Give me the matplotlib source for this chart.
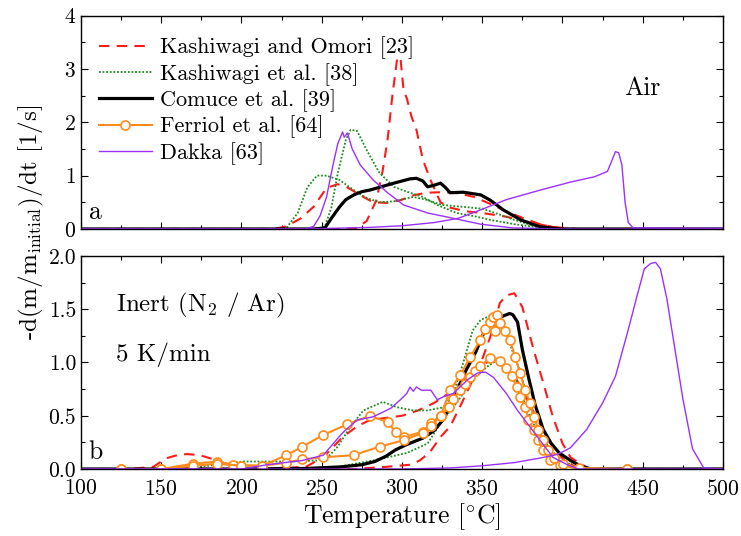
import matplotlib
matplotlib.use("Agg")
import matplotlib.pyplot as plt
from matplotlib.ticker import MultipleLocator

plt.rcParams['font.family'] = ['cmr10', 'DejaVu Serif']
plt.rcParams['mathtext.fontset'] = 'cm'
plt.rcParams['axes.formatter.use_mathtext'] = True

# ---------------- Air (panel a) ----------------
omori_air1_T = [100, 220, 228, 237, 245, 253, 260, 266, 276, 282, 291, 299, 307, 315, 325, 335, 345, 355, 365, 375, 385, 395, 405, 500]
omori_air1_v = [0, 0, 0.05, 0.2, 0.42, 0.77, 0.84, 0.78, 0.6, 0.5, 0.49, 0.54, 0.63, 0.68, 0.69, 0.67, 0.6, 0.47, 0.33, 0.21, 0.1, 0.03, 0, 0]
omori_air2_T = [100, 265, 272, 278, 284, 288, 291, 294, 297, 299, 301, 303, 306, 309, 313, 318, 324, 330, 340, 350, 365, 380, 390, 400, 410, 500]
omori_air2_v = [0, 0, 0.02, 0.15, 0.54, 1.1, 1.67, 2.5, 3.2, 3.22, 2.6, 2.45, 2.1, 1.86, 1.3, 0.9, 0.5, 0.4, 0.33, 0.3, 0.23, 0.12, 0.06, 0.02, 0, 0]

kash_air1_T = [100, 220, 228, 235, 241, 247, 253, 261, 270, 278, 286, 295, 307, 315, 325, 340, 350, 360, 370, 380, 390, 398, 500]
kash_air1_v = [0, 0, 0.02, 0.3, 0.78, 1.0, 1.0, 0.92, 0.73, 0.58, 0.5, 0.52, 0.6, 0.55, 0.45, 0.41, 0.38, 0.28, 0.17, 0.08, 0.03, 0, 0]
kash_air2_T = [100, 248, 252, 256, 260, 265, 268, 272, 278, 286, 295, 303, 313, 322, 334, 345, 355, 370, 380, 395, 500]
kash_air2_v = [0, 0, 0.05, 0.4, 1.05, 1.67, 1.86, 1.84, 1.48, 1.05, 0.79, 0.7, 0.6, 0.45, 0.3, 0.24, 0.17, 0.09, 0.05, 0, 0]

comuce_air_T = [100, 245, 252, 256, 261, 265, 270, 275, 280, 288, 295, 305, 309, 313, 316, 320, 324, 327, 330, 338, 349, 355, 363, 374, 386, 399, 500]
comuce_air_v = [0, 0, 0.02, 0.2, 0.41, 0.55, 0.64, 0.7, 0.73, 0.8, 0.86, 0.94, 0.95, 0.9, 0.79, 0.82, 0.86, 0.78, 0.68, 0.69, 0.64, 0.54, 0.36, 0.17, 0.04, 0, 0]

dakka_air1_T = [100, 240, 245, 249, 253, 257, 260, 263, 264, 266, 269, 274, 282, 291, 301, 316, 332, 349, 369, 400, 500]
dakka_air1_v = [0, 0, 0.05, 0.25, 0.6, 1.2, 1.6, 1.82, 1.72, 1.8, 1.5, 1.2, 0.92, 0.68, 0.45, 0.3, 0.2, 0.09, 0.02, 0, 0]
dakka_air2_T = [100, 240, 280, 300, 320, 335, 350, 365, 385, 405, 420, 428, 431, 433, 435, 437, 439, 441, 444, 500]
dakka_air2_v = [0, 0, 0.03, 0.06, 0.12, 0.2, 0.37, 0.55, 0.72, 0.88, 0.98, 1.08, 1.3, 1.45, 1.43, 1.2, 0.5, 0.12, 0.02, 0.01]

# ---------------- Inert (panel b) ----------------
omori_n2_1_T = [100, 130, 145, 153, 160, 166, 174, 185, 195, 210, 240, 251, 263, 272, 280, 290, 300, 310, 320, 330, 340, 350, 357, 362, 370, 378, 385, 392, 400, 408, 415, 500]
omori_n2_1_v = [0, 0, 0.02, 0.1, 0.13, 0.14, 0.13, 0.08, 0.02, 0, 0.02, 0.11, 0.3, 0.4, 0.46, 0.48, 0.5, 0.55, 0.62, 0.72, 0.86, 0.98, 1.03, 1.0, 0.88, 0.65, 0.45, 0.25, 0.1, 0.02, 0, 0]
omori_n2_2_T = [100, 270, 290, 305, 311, 317, 324, 330, 336, 341, 349, 355, 361, 365, 370, 375, 382, 388, 394, 400, 405, 411, 417, 500]
omori_n2_2_v = [0, 0, 0.02, 0.04, 0.08, 0.15, 0.3, 0.4, 0.58, 0.74, 0.99, 1.24, 1.56, 1.63, 1.65, 1.52, 1.12, 0.81, 0.49, 0.24, 0.11, 0.05, 0, 0]

kash_n2_1_T = [100, 160, 174, 189, 201, 230, 247, 255, 260, 268, 276, 288, 297, 307, 316, 326, 332, 338, 344, 349, 355, 361, 367, 374, 380, 388, 397, 410, 500]
kash_n2_1_v = [0, 0, 0.02, 0.05, 0.07, 0.07, 0.08, 0.13, 0.21, 0.4, 0.55, 0.63, 0.58, 0.55, 0.55, 0.58, 0.71, 0.99, 1.3, 1.4, 1.44, 1.43, 1.18, 0.9, 0.58, 0.27, 0.11, 0, 0]
kash_n2_2_T = [100, 240, 260, 282, 303, 316, 324, 334, 344, 353, 359, 365, 372, 378, 385, 392, 400, 410, 500]
kash_n2_2_v = [0, 0, 0.02, 0.08, 0.15, 0.24, 0.43, 0.62, 0.84, 0.96, 1.02, 0.96, 0.81, 0.55, 0.33, 0.15, 0.05, 0, 0]

comuce_n2_T = [100, 200, 240, 262, 275, 283, 290, 296, 303, 313, 320, 326, 332, 340, 346, 351, 357, 362, 367, 369, 372, 375, 379, 383, 388, 393, 398, 405, 411, 418, 500]
comuce_n2_v = [0, 0, 0.005, 0.02, 0.04, 0.07, 0.12, 0.18, 0.23, 0.29, 0.36, 0.47, 0.66, 0.93, 1.1, 1.28, 1.38, 1.43, 1.46, 1.45, 1.38, 1.12, 0.85, 0.6, 0.37, 0.24, 0.15, 0.08, 0.03, 0, 0]

ferriol1_T = [125, 150, 170, 185, 195, 213, 228, 238, 251, 266, 280, 291, 296, 301, 313, 318, 324, 329, 332, 336, 339, 342.5, 345.6, 348.7, 355, 361, 365, 368.4, 371.5, 373.6, 376.7, 378.8, 382, 385, 388, 392, 398.5, 410, 440]
ferriol1_v = [0, 0, 0.05, 0.07, 0.04, 0.03, 0.13, 0.21, 0.32, 0.42, 0.5, 0.44, 0.35, 0.3, 0.35, 0.43, 0.5, 0.58, 0.66, 0.74, 0.8, 0.86, 0.92, 0.97, 1.04, 1.01, 0.95, 0.87, 0.77, 0.68, 0.58, 0.46, 0.37, 0.27, 0.18, 0.08, 0.04, 0, 0]
ferriol2_T = [125, 150, 170, 185, 200, 213, 228, 238, 251, 270, 286, 301, 313, 318, 324, 330, 336.2, 342.5, 348.7, 351.8, 355, 357, 358, 359, 361, 364, 367.4, 370.5, 373.6, 376.7, 379.9, 382, 385, 388, 391, 394.4, 400.6, 410, 440]
ferriol2_v = [0, 0, 0.03, 0.05, 0.03, 0.03, 0.06, 0.09, 0.11, 0.13, 0.21, 0.27, 0.34, 0.4, 0.5, 0.74, 0.88, 1.05, 1.21, 1.31, 1.38, 1.43, 1.3, 1.45, 1.37, 1.3, 1.21, 1.05, 0.9, 0.74, 0.62, 0.49, 0.37, 0.27, 0.18, 0.1, 0.05, 0.01, 0]

dakka_n2_1_T = [100, 200, 216, 238, 251, 263, 272, 282, 293, 299, 303, 305, 307, 309, 312, 318, 322, 326, 332, 341, 347, 352, 357, 365, 372, 378, 386, 394, 403, 410, 500]
dakka_n2_1_v = [0, 0, 0.04, 0.08, 0.13, 0.34, 0.46, 0.49, 0.57, 0.65, 0.71, 0.77, 0.73, 0.77, 0.74, 0.74, 0.65, 0.68, 0.71, 0.84, 0.9, 0.91, 0.86, 0.71, 0.55, 0.43, 0.27, 0.11, 0.04, 0, 0]
dakka_n2_2_T = [100, 300, 330, 350, 370, 385, 395, 400, 405, 415, 425, 433, 437, 441, 446, 451, 455, 458, 461, 465, 470, 475, 481, 488, 500]
dakka_n2_2_v = [0, 0, 0.01, 0.03, 0.06, 0.1, 0.13, 0.16, 0.2, 0.37, 0.62, 0.87, 1.09, 1.31, 1.6, 1.88, 1.93, 1.94, 1.88, 1.6, 1.13, 0.66, 0.19, 0.01, 0]

RED = '#ff1a1a'
GREEN = '#1e8c1e'
ORANGE = '#ff8c1a'
PURPLE = '#9b30ff'

red_kw = dict(color=RED, ls=(0, (5, 3.5)), lw=1.5)
green_kw = dict(color=GREEN, ls=(0, (1, 1)), lw=1.3)
black_kw = dict(color='black', ls='-', lw=2.3)
orange_kw = dict(color=ORANGE, ls='-', lw=1.5, marker='o', ms=6.5, mfc='white', mec=ORANGE, mew=1.2)
purple_kw = dict(color=PURPLE, ls='-', lw=1.0)

fig = plt.figure(figsize=(7.41, 5.36), dpi=100)
ax1 = fig.add_axes([0.1093, 0.5728, 0.8664, 0.3979])
ax2 = fig.add_axes([0.1093, 0.1250, 0.8664, 0.3974])

# panel a
ax1.plot(omori_air1_T, omori_air1_v, label='Kashiwagi and Omori [23]', **red_kw)
ax1.plot(omori_air2_T, omori_air2_v, **red_kw)
ax1.plot(kash_air1_T, kash_air1_v, label='Kashiwagi et al. [38]', **green_kw)
ax1.plot(kash_air2_T, kash_air2_v, **green_kw)
ax1.plot(comuce_air_T, comuce_air_v, label='Comuce et al. [39]', **black_kw)
ax1.plot([], [], label='Ferriol et al. [64]', **orange_kw)
ax1.plot(dakka_air1_T, dakka_air1_v, label='Dakka [63]', **purple_kw)
ax1.plot(dakka_air2_T, dakka_air2_v, **purple_kw)

# panel b
ax2.plot(omori_n2_1_T, omori_n2_1_v, **red_kw)
ax2.plot(omori_n2_2_T, omori_n2_2_v, **red_kw)
ax2.plot(kash_n2_1_T, kash_n2_1_v, **green_kw)
ax2.plot(kash_n2_2_T, kash_n2_2_v, **green_kw)
ax2.plot(comuce_n2_T, comuce_n2_v, **black_kw)
ax2.plot(ferriol1_T, ferriol1_v, **orange_kw)
ax2.plot(ferriol2_T, ferriol2_v, **orange_kw)
ax2.plot(dakka_n2_1_T, dakka_n2_1_v, **purple_kw)
ax2.plot(dakka_n2_2_T, dakka_n2_2_v, **purple_kw)

for ax in (ax1, ax2):
    ax.set_xlim(100, 500)
    ax.xaxis.set_major_locator(MultipleLocator(50))
    ax.xaxis.set_minor_locator(MultipleLocator(25))
    ax.tick_params(which='both', direction='in', top=True, right=True, labelsize=15.5)
    ax.tick_params(which='major', length=5, width=0.8)
    ax.tick_params(which='minor', length=3, width=0.8)
    ax.tick_params(axis='x', pad=7)
    for s in ax.spines.values():
        s.set_linewidth(1.0)

ax1.set_ylim(0, 4)
ax1.yaxis.set_major_locator(MultipleLocator(1))
ax1.yaxis.set_minor_locator(MultipleLocator(0.5))
ax1.tick_params(labelbottom=False)

ax2.set_ylim(0, 2)
ax2.yaxis.set_major_locator(MultipleLocator(0.5))
ax2.yaxis.set_minor_locator(MultipleLocator(0.25))
ax2.yaxis.set_major_formatter(plt.FormatStrFormatter('%.1f'))
ax2.set_xlabel('Temperature [$^{\\circ}$C]', fontsize=18.5, labelpad=2)

ax1.legend(loc='upper left', bbox_to_anchor=(0.0, 0.985), frameon=False, fontsize=16,
           handlelength=2.4, handletextpad=0.35, labelspacing=0.16, borderaxespad=0.4)

ax1.text(0.874, 0.66, 'Air', transform=ax1.transAxes, fontsize=18.5, ha='center', va='center')
ax1.text(0.012, 0.08, 'a', transform=ax1.transAxes, fontsize=18.5, ha='left', va='center')
ax2.text(0.012, 0.08, 'b', transform=ax2.transAxes, fontsize=18.5, ha='left', va='center')
ax2.text(0.055, 0.77, 'Inert (N$_2$ / Ar)', transform=ax2.transAxes, fontsize=18, ha='left', va='center')
ax2.text(0.055, 0.535, '5 K/min', transform=ax2.transAxes, fontsize=18, ha='left', va='center')

fig.text(0.043, 0.585, '-d(m/m$_{\\mathrm{initial}}$)/dt [1/s]', rotation=90, fontsize=18,
         ha='center', va='center')

fig.savefig('out.png', dpi=100)
